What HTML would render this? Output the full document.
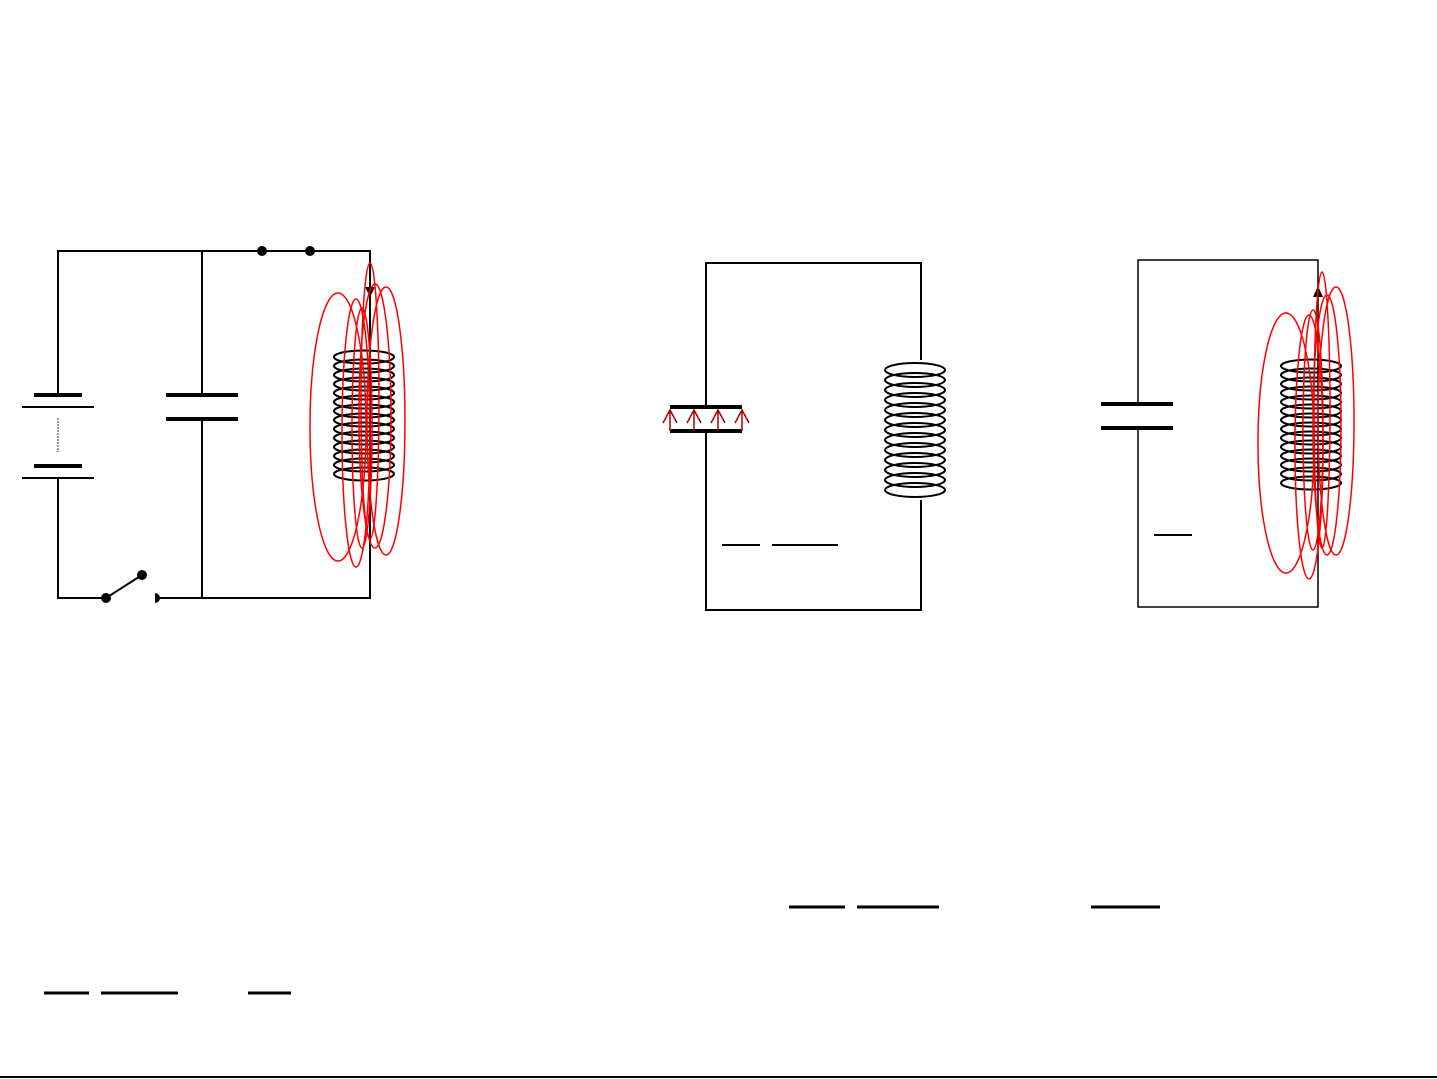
<!DOCTYPE html>
<html><head><meta charset="utf-8"><style>html,body{margin:0;padding:0;background:#fff}svg{display:block}</style></head>
<body>
<svg width="1437" height="1079" viewBox="0 0 1437 1079" xmlns="http://www.w3.org/2000/svg">
<g stroke="#000" fill="none" stroke-width="2">
<polyline points="58,395 58,251 370,251 370,598 156,598"/>
<line x1="202" y1="251" x2="202" y2="395"/>
<line x1="202" y1="419" x2="202" y2="598"/>
<polyline points="58,478 58,598 106,598"/>
<line x1="106" y1="598" x2="142" y2="575"/>
<line x1="22" y1="407" x2="94" y2="407"/>
<line x1="22" y1="478" x2="94" y2="478"/>
</g>
<line x1="34" y1="395" x2="82" y2="395" stroke="#000" stroke-width="4"/>
<line x1="34" y1="466" x2="82" y2="466" stroke="#000" stroke-width="4"/>
<line x1="58" y1="418" x2="58" y2="452" stroke="#999" stroke-width="2" stroke-dasharray="2,1"/>
<line x1="166" y1="395" x2="238" y2="395" stroke="#000" stroke-width="4"/>
<line x1="166" y1="419" x2="238" y2="419" stroke="#000" stroke-width="4"/>
<g fill="#000"><circle cx="262" cy="251" r="5"/><circle cx="310" cy="251" r="5"/><circle cx="106" cy="598" r="5"/><circle cx="142" cy="575" r="5"/><path d="M155,593 a5,5 0 0 1 0,10 z"/></g>
<polygon points="365,287 375,287 370,297" fill="#000"/>
<g stroke="#000" fill="none" stroke-width="2">
<ellipse cx="364" cy="357" rx="30" ry="6.5"/><ellipse cx="364" cy="366" rx="30" ry="6.5"/><ellipse cx="364" cy="375" rx="30" ry="6.5"/><ellipse cx="364" cy="384" rx="30" ry="6.5"/><ellipse cx="364" cy="393" rx="30" ry="6.5"/><ellipse cx="364" cy="402" rx="30" ry="6.5"/><ellipse cx="364" cy="411" rx="30" ry="6.5"/><ellipse cx="364" cy="420" rx="30" ry="6.5"/><ellipse cx="364" cy="429" rx="30" ry="6.5"/><ellipse cx="364" cy="438" rx="30" ry="6.5"/><ellipse cx="364" cy="447" rx="30" ry="6.5"/><ellipse cx="364" cy="456" rx="30" ry="6.5"/><ellipse cx="364" cy="465" rx="30" ry="6.5"/><ellipse cx="364" cy="474" rx="30" ry="6.5"/>
</g>
<g stroke="#f00" fill="none" stroke-width="1.5">
<ellipse cx="338" cy="427" rx="28" ry="134"/><ellipse cx="356" cy="433" rx="14" ry="134"/><ellipse cx="386" cy="421" rx="19" ry="134"/><ellipse cx="370" cy="401" rx="9" ry="138"/><ellipse cx="375" cy="416" rx="16" ry="132"/><ellipse cx="362" cy="428" rx="10" ry="120"/>
</g>
<g stroke="#000" fill="none" stroke-width="2">
<polyline points="706,407 706,263 921,263 921,360"/>
<polyline points="706,431 706,610 921,610 921,500"/>
<ellipse cx="915" cy="370" rx="30" ry="7"/><ellipse cx="915" cy="380" rx="30" ry="7"/><ellipse cx="915" cy="390" rx="30" ry="7"/><ellipse cx="915" cy="400" rx="30" ry="7"/><ellipse cx="915" cy="410" rx="30" ry="7"/><ellipse cx="915" cy="420" rx="30" ry="7"/><ellipse cx="915" cy="430" rx="30" ry="7"/><ellipse cx="915" cy="440" rx="30" ry="7"/><ellipse cx="915" cy="450" rx="30" ry="7"/><ellipse cx="915" cy="460" rx="30" ry="7"/><ellipse cx="915" cy="470" rx="30" ry="7"/><ellipse cx="915" cy="480" rx="30" ry="7"/><ellipse cx="915" cy="490" rx="30" ry="7"/>
</g>
<line x1="670" y1="407" x2="742" y2="407" stroke="#000" stroke-width="4"/>
<line x1="670" y1="431" x2="742" y2="431" stroke="#000" stroke-width="4"/>
<g stroke="#a00" fill="none" stroke-width="1.5">
<path d="M670,431 V410 M663,423 L670,410 L677,423"/><path d="M694,431 V410 M687,423 L694,410 L701,423"/><path d="M718,431 V410 M711,423 L718,410 L725,423"/><path d="M742,431 V410 M735,423 L742,410 L749,423"/>
</g>
<g stroke="#000" stroke-width="2"><line x1="722" y1="545" x2="760" y2="545"/><line x1="772" y1="545" x2="838" y2="545"/></g>
<g stroke="#000" fill="none" stroke-width="1.5">
<polyline points="1138,404 1138,260 1318,260 1318,607 1138,607 1138,428"/>
</g>
<line x1="1101" y1="404" x2="1173" y2="404" stroke="#000" stroke-width="4"/>
<line x1="1101" y1="428" x2="1173" y2="428" stroke="#000" stroke-width="4"/>
<polygon points="1313,297 1323,297 1318,286" fill="#000"/>
<g stroke="#000" fill="none" stroke-width="2">
<ellipse cx="1311" cy="366" rx="30" ry="6.5"/><ellipse cx="1311" cy="375" rx="30" ry="6.5"/><ellipse cx="1311" cy="384" rx="30" ry="6.5"/><ellipse cx="1311" cy="393" rx="30" ry="6.5"/><ellipse cx="1311" cy="402" rx="30" ry="6.5"/><ellipse cx="1311" cy="411" rx="30" ry="6.5"/><ellipse cx="1311" cy="420" rx="30" ry="6.5"/><ellipse cx="1311" cy="429" rx="30" ry="6.5"/><ellipse cx="1311" cy="438" rx="30" ry="6.5"/><ellipse cx="1311" cy="447" rx="30" ry="6.5"/><ellipse cx="1311" cy="456" rx="30" ry="6.5"/><ellipse cx="1311" cy="465" rx="30" ry="6.5"/><ellipse cx="1311" cy="474" rx="30" ry="6.5"/><ellipse cx="1311" cy="483" rx="30" ry="6.5"/>
</g>
<g stroke="#f00" fill="none" stroke-width="1.5">
<ellipse cx="1286" cy="443" rx="28" ry="130"/><ellipse cx="1309" cy="447" rx="14" ry="132"/><ellipse cx="1336" cy="421" rx="18" ry="134"/><ellipse cx="1322" cy="410" rx="8" ry="138"/><ellipse cx="1327" cy="425" rx="14" ry="130"/><ellipse cx="1313" cy="430" rx="10" ry="120"/>
</g>
<g stroke="#000" stroke-width="2"><line x1="1154" y1="535" x2="1192" y2="535"/></g>
<g stroke="#000" stroke-width="3">
<line x1="44" y1="993" x2="89" y2="993"/><line x1="101" y1="993" x2="178" y2="993"/><line x1="248" y1="993" x2="291" y2="993"/>
<line x1="789" y1="907" x2="845" y2="907"/><line x1="857" y1="907" x2="939" y2="907"/><line x1="1091" y1="907" x2="1160" y2="907"/>
</g>
<line x1="0" y1="1077" x2="1437" y2="1077" stroke="#000" stroke-width="2"/>
</svg>
</body></html>
